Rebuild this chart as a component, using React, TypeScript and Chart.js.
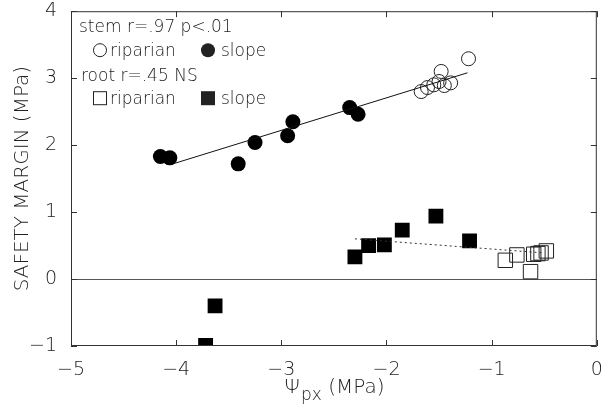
import React, { useEffect, useRef } from 'react';
import { Chart, registerables } from 'chart.js';
Chart.register(...registerables);

// Stem, slope sites (filled circles)
const stemSlopeX = [-4.15, -4.06, -3.41, -3.25, -2.94, -2.89, -2.35, -2.27];
const stemSlopeY = [1.83, 1.81, 1.72, 2.04, 2.14, 2.35, 2.56, 2.46];
// Stem, riparian sites (open circles)
const stemRipX = [-1.67, -1.61, -1.55, -1.5, -1.48, -1.45, -1.39, -1.22];
const stemRipY = [2.8, 2.86, 2.9, 2.95, 3.1, 2.89, 2.93, 3.29];
// Root, slope sites (filled squares)
const rootSlopeX = [-3.72, -3.63, -2.3, -2.17, -2.02, -1.85, -1.53, -1.21];
const rootSlopeY = [-0.99, -0.4, 0.33, 0.5, 0.51, 0.73, 0.94, 0.57];
// Root, riparian sites (open squares)
const rootRipX = [-0.87, -0.76, -0.63, -0.6, -0.56, -0.53, -0.48];
const rootRipY = [0.28, 0.36, 0.11, 0.37, 0.38, 0.39, 0.42];
// Regression lines
const stemFitX = [-4.01, -1.23];
const stemFitY = [1.73, 3.08];
const rootFitX = [-2.3, -0.5];
const rootFitY = [0.6, 0.39];

const xRange = [-5, 0];
const yRange = [-1, 4];
const yTitle = 'SAFETY MARGIN (MPa)';
const xTitleMain = 'Ψ';
const xTitleSub = 'px';
const xTitleUnit = ' (MPa)';
const legendStem = 'stem r=.97 p<.01';
const legendRoot = 'root r=.45 NS';
const legendRip = 'riparian';
const legendSlope = 'slope';

const FONT = '"DejaVu Sans", sans-serif';
const INK = '#222';

const pts = (xs: number[], ys: number[]) => xs.map((x, i) => ({ x, y: ys[i] }));
const fmt = (v: number) => (v < 0 ? '−' + Math.abs(v) : String(v));

const decorPlugin = {
  id: 'decor',
  afterDatasetsDraw(chart: any) {
    const { ctx, chartArea: a, scales } = chart;
    ctx.save();
    ctx.strokeStyle = '#333';
    ctx.lineWidth = 1;
    ctx.strokeRect(a.left + 0.5, a.top + 0.5, a.right - a.left - 1, a.bottom - a.top - 1);
    const tl = 6;
    ctx.beginPath();
    scales.x.ticks.forEach((t: any) => {
      const px = Math.round(scales.x.getPixelForValue(t.value)) + 0.5;
      ctx.moveTo(px, a.bottom); ctx.lineTo(px, a.bottom - tl);
      ctx.moveTo(px, a.top); ctx.lineTo(px, a.top + tl);
    });
    scales.y.ticks.forEach((t: any) => {
      const py = Math.round(scales.y.getPixelForValue(t.value)) + 0.5;
      ctx.moveTo(a.left, py); ctx.lineTo(a.left + tl, py);
      ctx.moveTo(a.right, py); ctx.lineTo(a.right - tl, py);
    });
    ctx.stroke();
    ctx.restore();
  },
  afterDraw(chart: any) {
    const { ctx, chartArea: a } = chart;
    ctx.save();
    ctx.fillStyle = INK;
    ctx.strokeStyle = INK;
    ctx.textBaseline = 'middle';
    ctx.textAlign = 'left';
    ctx.font = `300 17px ${FONT}`;
    const L = a.left, T = a.top;
    ctx.fillText(legendStem, L + 8, T + 16);
    ctx.fillText(legendRoot, L + 10, T + 65);
    // row 2: circles
    ctx.lineWidth = 1;
    ctx.beginPath(); ctx.arc(L + 29, T + 39, 6.5, 0, Math.PI * 2); ctx.stroke();
    ctx.fillText(legendRip, L + 39, T + 40);
    ctx.beginPath(); ctx.arc(L + 137, T + 39, 7, 0, Math.PI * 2); ctx.fill();
    ctx.fillText(legendSlope, L + 150, T + 40);
    // row 4: squares
    ctx.strokeRect(L + 22.5, T + 80.5, 13, 13);
    ctx.fillText(legendRip, L + 39, T + 88);
    ctx.fillRect(L + 130, T + 80, 14, 14);
    ctx.fillText(legendSlope, L + 150, T + 88);
    // x title with subscript
    const cx = (a.left + a.right) / 2;
    const by = 393;
    ctx.textBaseline = 'alphabetic';
    ctx.font = `300 20px ${FONT}`;
    const w1 = ctx.measureText(xTitleMain).width;
    const w3 = ctx.measureText(xTitleUnit).width;
    ctx.font = `300 17px ${FONT}`;
    const w2 = ctx.measureText(xTitleSub).width;
    const x0 = cx - (w1 + w2 + w3) / 2;
    ctx.font = `300 20px ${FONT}`;
    ctx.fillText(xTitleMain, x0, by);
    ctx.font = `300 17px ${FONT}`;
    ctx.fillText(xTitleSub, x0 + w1 + 1, by + 7);
    ctx.font = `300 20px ${FONT}`;
    ctx.fillText(xTitleUnit, x0 + w1 + w2 + 1, by);
    ctx.restore();
  },
};

export default function App() {
  const ref = useRef<HTMLCanvasElement>(null);
  useEffect(() => {
    document.body.style.margin = '0';
    const chart = new Chart(ref.current as HTMLCanvasElement, {
      type: 'scatter',
      data: {
        datasets: [
          {
            type: 'line', label: 'stem fit', data: pts(stemFitX, stemFitY),
            borderColor: '#111', borderWidth: 1, pointRadius: 0, fill: false,
          } as any,
          {
            type: 'line', label: 'root fit', data: pts(rootFitX, rootFitY),
            borderColor: '#333', borderWidth: 1, borderDash: [2, 3], pointRadius: 0, fill: false,
          } as any,
          {
            label: 'stem riparian', data: pts(stemRipX, stemRipY), pointStyle: 'circle',
            pointRadius: 7, pointBorderWidth: 1, pointBorderColor: '#222', pointBackgroundColor: 'rgba(0,0,0,0)',
          },
          {
            label: 'stem slope', data: pts(stemSlopeX, stemSlopeY), pointStyle: 'circle',
            pointRadius: 7.5, pointBorderWidth: 0, pointBackgroundColor: '#000',
          },
          {
            label: 'root riparian', data: pts(rootRipX, rootRipY), pointStyle: 'rect',
            pointRadius: 10.2, pointBorderWidth: 1, pointBorderColor: '#222', pointBackgroundColor: 'rgba(0,0,0,0)',
          },
          {
            label: 'root slope', data: pts(rootSlopeX, rootSlopeY), pointStyle: 'rect',
            pointRadius: 10.5, pointBorderWidth: 0, pointBackgroundColor: '#000',
          },
        ],
      },
      options: {
        animation: false,
        responsive: true,
        maintainAspectRatio: false,
        layout: { padding: { top: 0, right: 0, left: 0, bottom: 0 } },
        plugins: { legend: { display: false }, tooltip: { enabled: false } },
        scales: {
          x: {
            type: 'linear', min: xRange[0], max: xRange[1],
            ticks: { stepSize: 1, color: INK, padding: 13, font: { family: FONT, size: 19, weight: '300' as any }, callback: (v: any) => fmt(Number(v)) },
            grid: { display: false, drawTicks: false },
            border: { display: false },
            afterFit: (s: any) => { s.height = 65; s.paddingLeft = 0; s.paddingRight = 5; },
          },
          y: {
            type: 'linear', min: yRange[0], max: yRange[1],
            ticks: { stepSize: 1, color: INK, padding: 14, font: { family: FONT, size: 19, weight: '300' as any }, callback: (v: any) => fmt(Number(v)) },
            grid: {
              drawTicks: false, drawOnChartArea: true,
              color: (c: any) => (c.tick && c.tick.value === 0 ? '#555' : 'rgba(0,0,0,0)'),
              lineWidth: 1,
            },
            border: { display: false },
            title: { display: true, text: yTitle, color: INK, padding: { top: 11, bottom: 0 }, font: { family: FONT, size: 20, weight: '300' as any } },
            afterFit: (s: any) => { s.width = 71; s.paddingTop = 11; s.paddingBottom = 0; },
          },
        },
      },
      plugins: [decorPlugin],
    });
    return () => chart.destroy();
  }, []);
  return (
    <div style={{ position: 'fixed', left: 0, top: 0, width: 608, height: 411, background: '#fff' }}>
      <canvas ref={ref} />
    </div>
  );
}
